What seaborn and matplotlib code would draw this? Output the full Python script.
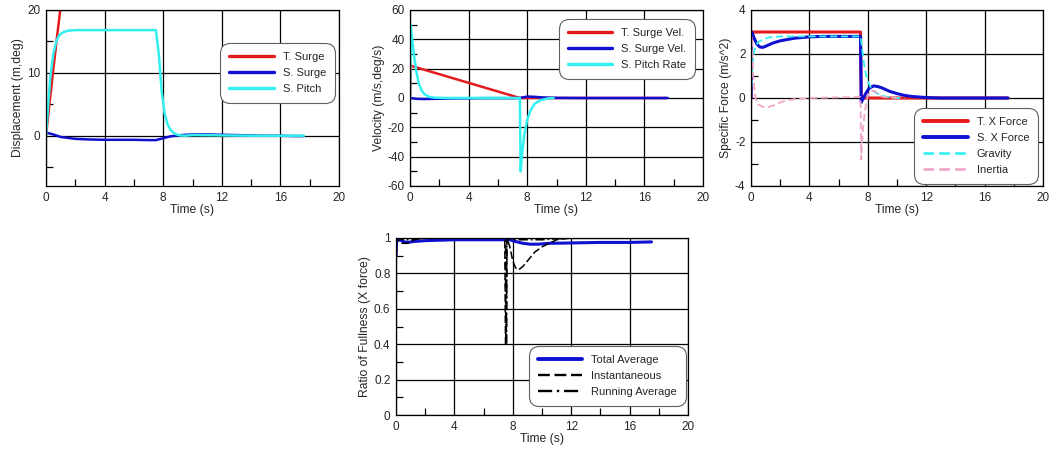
import numpy as np
import pandas as pd
import matplotlib
matplotlib.use("Agg")
import matplotlib.pyplot as plt
import seaborn as sns
from matplotlib.ticker import MultipleLocator

# Panel 1: displacement
t_surge_T = [0, 0.25, 0.5, 0.75, 1.0, 1.1]
surge_T = [0, 5.4, 10.6, 15.7, 20.5, 22.4]
t_surge_S = [0, 0.5, 1, 2, 3, 4, 5, 6, 7, 7.5, 8, 8.5, 9, 9.5, 10, 11, 12, 13, 14, 15, 16, 17, 17.6]
surge_S = [0.5, 0.2, -0.2, -0.5, -0.6, -0.65, -0.65, -0.65, -0.7, -0.7, -0.4, -0.1, 0.05, 0.15,
           0.2, 0.2, 0.15, 0.1, 0.05, 0.0, 0.0, -0.05, -0.05]
t_pitch_S = [0, 0.15, 0.3, 0.5, 0.7, 0.9, 1.2, 1.5, 2, 3, 5, 7, 7.5, 7.7, 7.9, 8.1, 8.3, 8.5,
             8.8, 9.1, 9.5, 10, 12, 14, 16, 17.6]
pitch_S = [0, 5, 9.5, 13, 15, 16, 16.5, 16.7, 16.8, 16.8, 16.8, 16.8, 16.8, 13, 7, 3.5, 1.8, 0.9,
           0.3, 0.05, 0, 0.1, 0.05, 0, 0, 0]

# Panel 2: velocity
t_vel_T = [0, 0.05, 7.5, 17.5]
vel_T = [0, 22, 0, 0]
t_vel_S = [0, 0.5, 1, 2, 3, 5, 7, 7.5, 8, 8.5, 9, 10, 12, 17.6]
vel_S = [0, -0.6, -0.7, -0.5, -0.3, -0.1, -0.1, 0, 1, 0.8, 0.4, 0.1, 0, 0]
t_rate = [0, 0.05, 0.15, 0.3, 0.45, 0.6, 0.8, 1.0, 1.3, 1.7, 2.5, 7.5, 7.55, 7.65, 7.8, 8.0,
          8.2, 8.5, 8.9, 9.4, 9.8]
pitch_rate = [0, 50, 40, 27, 17, 10, 5, 2.5, 0.8, 0.2, 0, 0, -50, -38, -25, -15, -9, -4,
              -1.5, -0.3, 0]

# Panel 3: specific force
t_fx_T = [0, 0.03, 7.5, 7.55, 17.6]
fx_T = [0, 3, 3, 0, 0]
t_fx_S = [0, 0.05, 0.2, 0.4, 0.6, 0.8, 1.0, 1.5, 2, 3, 4, 5, 7.5, 7.55, 7.7, 7.9, 8.1, 8.4,
          8.7, 9.0, 9.5, 10, 10.5, 11, 12, 13, 17.6]
fx_S = [0, 3.0, 2.75, 2.45, 2.32, 2.3, 2.35, 2.5, 2.6, 2.72, 2.78, 2.8, 2.8, -0.2, 0.0, 0.25,
        0.45, 0.55, 0.52, 0.45, 0.3, 0.2, 0.12, 0.07, 0.02, 0, 0]
t_grav = [0, 0.1, 0.2, 0.35, 0.5, 0.8, 1.2, 2, 3, 7.5, 7.6, 7.75, 7.9, 8.1, 8.4, 8.8, 9.3, 10, 10.5]
gravity = [0, 1.5, 2.1, 2.4, 2.55, 2.65, 2.75, 2.8, 2.8, 2.8, 2.3, 1.5, 1.0, 0.6, 0.3, 0.15,
           0.05, 0, 0]
t_iner = [0, 0.05, 0.15, 0.3, 0.5, 0.8, 1.1, 1.5, 2, 2.5, 3, 4, 7.5, 7.55, 7.65, 7.8, 8.0,
          8.2, 8.5, 9, 10]
inertia = [0, 2.8, 1.0, 0.0, -0.3, -0.4, -0.42, -0.35, -0.2, -0.1, -0.05, 0, 0.05, -2.8, -1.5,
           -0.6, 0.1, 0.35, 0.3, 0.05, 0]

# Panel 4: ratio of fullness
t_total = [0, 0.05, 0.2, 0.5, 0.8, 1.2, 2, 4, 6, 7.5, 7.8, 8.2, 8.7, 9.2, 9.7, 10.5, 12, 14, 16, 17.5]
total_avg = [0.9, 1.0, 0.99, 0.98, 0.975, 0.98, 0.985, 0.99, 0.99, 0.99, 0.99, 0.98, 0.97,
             0.965, 0.965, 0.97, 0.972, 0.975, 0.975, 0.978]
t_inst = [0, 0.03, 0.1, 0.4, 0.8, 1.2, 2, 7.45, 7.5, 7.55, 7.6, 7.8, 8.0, 8.2, 8.4, 8.7, 9.0,
          9.5, 10, 10.5, 11, 12, 14, 17.5]
instantaneous = [0.8, 1.0, 0.99, 0.97, 0.97, 0.99, 1.0, 1.0, 0.4, 0.4, 1.0, 0.95, 0.87, 0.83,
                 0.82, 0.84, 0.87, 0.92, 0.95, 0.97, 0.99, 1.0, 1.0, 1.0]
t_run = [0, 0.05, 0.5, 1, 2, 7.5, 7.52, 7.58, 7.6, 8, 10, 12, 17.5]
running_avg = [0.8, 1.0, 0.99, 0.99, 1.0, 1.0, 0.4, 0.4, 1.0, 0.99, 0.99, 1.0, 1.0]

sns.set_style("white")
plt.rcParams["font.family"] = ["Liberation Sans", "DejaVu Sans"]
plt.rcParams["font.size"] = 8
plt.rcParams["axes.unicode_minus"] = False

RED = "#e41a1c"
BLUE = "#1010d0"
CYAN = "#33f0f0"
PINK = "#f0a6c8"

fig = plt.figure(figsize=(10.55, 4.54), dpi=100)
W, H = 1055, 454


def make_ax(x0, y0, x1, y1):
    return fig.add_axes([x0 / W, 1 - y1 / H, (x1 - x0) / W, (y1 - y0) / H])


def style(ax, ylim, major, minor, ylabel):
    ax.set_xlim(0, 20)
    ax.set_ylim(*ylim)
    ax.xaxis.set_major_locator(MultipleLocator(4))
    ax.xaxis.set_minor_locator(MultipleLocator(2))
    ax.yaxis.set_major_locator(MultipleLocator(major))
    ax.yaxis.set_minor_locator(MultipleLocator(minor))
    ax.grid(True, which="major", color="black", lw=0.9)
    ax.tick_params(which="both", direction="in", labelsize=8.5, bottom=True, left=True,
                   top=False, right=False)
    ax.tick_params(which="major", length=0, pad=4)
    ax.tick_params(which="minor", length=5, width=0.9, color="black")
    for s in ax.spines.values():
        s.set_color("black")
        s.set_linewidth(0.9)
    ax.set_xlabel("Time (s)", fontsize=8.7, labelpad=0)
    ax.set_ylabel(ylabel, fontsize=8.7, labelpad=2)


def line(ax, t, y, label, color, lw=1.8, ls="-"):
    df = pd.DataFrame({"t": t, "y": y})
    sns.lineplot(data=df, x="t", y="y", ax=ax, color=color, lw=lw, linestyle=ls,
                 label=label, estimator=None, sort=False)


def legend(ax, loc, anchor):
    leg = ax.legend(loc=loc, bbox_to_anchor=anchor, fontsize=8, handlelength=4,
                    fancybox=True, framealpha=1, edgecolor="#606060", borderpad=0.8,
                    labelspacing=0.55, borderaxespad=0)
    frame = leg.get_frame()
    frame.set_linewidth(0.8)
    frame.set_boxstyle("round", pad=0, rounding_size=0.9)
    for h in leg.get_lines():
        h.set_linewidth(h.get_linewidth() + 0.6)


ax1 = make_ax(46, 10, 339, 186)
line(ax1, t_surge_T, surge_T, "T. Surge", RED)
line(ax1, t_surge_S, surge_S, "S. Surge", BLUE)
line(ax1, t_pitch_S, pitch_S, "S. Pitch", CYAN)
style(ax1, (-8, 20), 10, 5, "Displacement (m,deg)")
legend(ax1, "upper right", (0.986, 0.8125))

ax2 = make_ax(410, 10, 703, 186)
line(ax2, t_vel_T, vel_T, "T. Surge Vel.", RED)
line(ax2, t_vel_S, vel_S, "S. Surge Vel.", BLUE)
line(ax2, t_rate, pitch_rate, "S. Pitch Rate", CYAN)
style(ax2, (-60, 60), 20, 10, "Velocity (m/s,deg/s)")
legend(ax2, "upper right", (0.973, 0.949))

ax3 = make_ax(751, 10, 1043, 186)
line(ax3, t_fx_T, fx_T, "T. X Force", RED, lw=2.2)
line(ax3, t_fx_S, fx_S, "S. X Force", BLUE, lw=2.2)
line(ax3, t_grav, gravity, "Gravity", CYAN, lw=1.3, ls=(0, (4, 2)))
line(ax3, t_iner, inertia, "Inertia", PINK, lw=1.3, ls=(0, (4, 2)))
style(ax3, (-4, 4), 2, 1, "Specific Force (m/s^2)")
legend(ax3, "lower right", (0.983, 0.011))

ax4 = make_ax(396, 238, 688, 415)
line(ax4, t_total, total_avg, "Total Average", BLUE, lw=2.2)
line(ax4, t_inst, instantaneous, "Instantaneous", "black", lw=1.1, ls=(0, (5, 2)))
line(ax4, t_run, running_avg, "Running Average", "black", lw=1.1, ls=(0, (6, 2, 1, 2)))
style(ax4, (0, 1), 0.2, 0.1, "Ratio of Fullness (X force)")
ax4.set_yticks([0, 0.2, 0.4, 0.6, 0.8, 1])
ax4.set_yticklabels(["0", "0.2", "0.4", "0.6", "0.8", "1"])
legend(ax4, "lower right", (0.993, 0.051))

fig.savefig("out.png", dpi=100)
